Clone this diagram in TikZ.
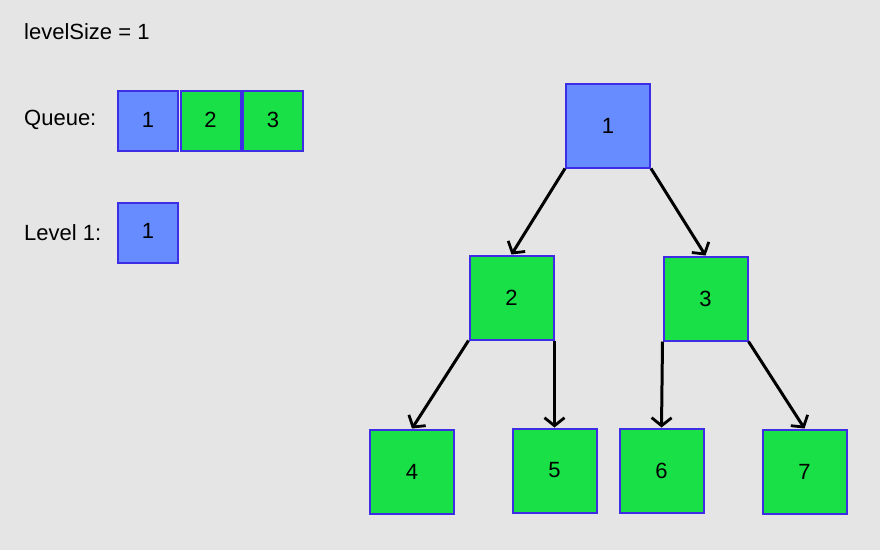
\documentclass[tikz,border=0pt]{standalone}
\usepackage{fontspec}
\setmainfont{Liberation Sans}
\usetikzlibrary{arrows.meta}
\definecolor{bg}{HTML}{E5E5E5}
\definecolor{bluefill}{HTML}{668CFF}
\definecolor{greenfill}{HTML}{19E046}
\definecolor{edgecol}{HTML}{3D2EE6}
\tikzset{
  treebox/.style={draw=edgecol, line width=2pt, minimum width=84pt, minimum height=84pt, inner sep=0pt, font=\fontsize{22}{26}\selectfont},
  qbox/.style={draw=edgecol, line width=2pt, minimum width=60pt, minimum height=60pt, inner sep=0pt, font=\fontsize{22}{26}\selectfont},
  bluebox/.style={fill=bluefill},
  greenbox/.style={fill=greenfill},
  lbl/.style={anchor=west, inner sep=0pt, font=\fontsize{22}{26}\selectfont},
  edge/.style={line width=3pt, -{Straight Barb[length=8pt,width=20pt,line width=2.8pt]}}
}
\begin{document}
\begin{tikzpicture}[x=1pt,y=-1pt]
\fill[bg] (0,0) rectangle (880,550);
\useasboundingbox (0,0) rectangle (880,550);
% left panel
\node[lbl] (ls) at (24,32) {levelSize = 1};
\node[lbl] (ql) at (24,120) {Queue:};
\node[lbl] (ll) at (24,233) {Level 1:};
\node[qbox,bluebox] (q1) at (148,121) {\raisebox{3pt}{1}};
\node[qbox,greenbox] (q2) at (210.5,121) {\raisebox{3pt}{2}};
\node[qbox,greenbox] (q3) at (273,121) {\raisebox{3pt}{3}};
\node[qbox,bluebox] (l1) at (148,232.5) {\raisebox{3pt}{1}};
% tree
\node[treebox,bluebox] (n1) at (608,125.5) {1};
\node[treebox,greenbox] (n2) at (511.5,297.5) {2};
\node[treebox,greenbox] (n3) at (705.5,298.5) {3};
\node[treebox,greenbox] (n4) at (412,471.5) {4};
\node[treebox,greenbox] (n5) at (554.5,470.5) {5};
\node[treebox,greenbox] (n6) at (661.5,470.5) {6};
\node[treebox,greenbox] (n7) at (804.5,471.5) {7};
\draw[edge] (n1.south west) -- (n2.north);
\draw[edge] (n1.south east) -- (n3.north);
\draw[edge] (n2.south west) -- (n4.north);
\draw[edge] (n2.south east) -- (n5.north);
\draw[edge] (n3.south west) -- (n6.north);
\draw[edge] (n3.south east) -- (n7.north);
\end{tikzpicture}
\end{document}
